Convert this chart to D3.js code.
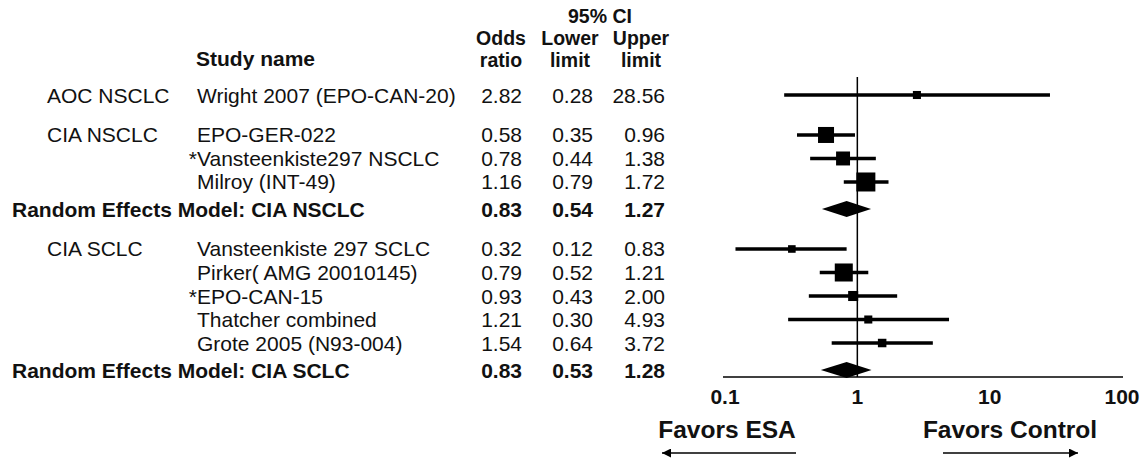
<!DOCTYPE html>
<html>
<head>
<meta charset="utf-8">
<script src="https://cdn.jsdelivr.net/npm/d3@7"></script>
<style>
  html, body { margin: 0; padding: 0; background: #fff; }
  svg { display: block; }
  text { font-family: "Liberation Sans", Arial, Helvetica, sans-serif; fill: #111; }
</style>
</head>
<body>
<svg id="chart" width="1142" height="458"></svg>
<script>
// ---------------- data ----------------
const rowLabels = [
  "Wright 2007 (EPO-CAN-20)",
  "EPO-GER-022",
  "Vansteenkiste297 NSCLC",
  "Milroy (INT-49)",
  "Random Effects Model: CIA NSCLC",
  "Vansteenkiste 297 SCLC",
  "Pirker( AMG 20010145)",
  "EPO-CAN-15",
  "Thatcher combined",
  "Grote 2005 (N93-004)",
  "Random Effects Model: CIA SCLC"
];
const rowGroups = ["AOC NSCLC", "CIA NSCLC", "CIA NSCLC", "CIA NSCLC", "CIA NSCLC",
                   "CIA SCLC", "CIA SCLC", "CIA SCLC", "CIA SCLC", "CIA SCLC", "CIA SCLC"];
const isSummary = [false, false, false, false, true, false, false, false, false, false, true];
const flagged   = [false, false, true, false, false, false, false, true, false, false, false];
const oddsRatio  = [2.82, 0.58, 0.78, 1.16, 0.83, 0.32, 0.79, 0.93, 1.21, 1.54, 0.83];
const lowerLimit = [0.28, 0.35, 0.44, 0.79, 0.54, 0.12, 0.52, 0.43, 0.30, 0.64, 0.53];
const upperLimit = [28.56, 0.96, 1.38, 1.72, 1.27, 0.83, 1.21, 2.00, 4.93, 3.72, 1.28];
const relWeight  = [18, 71, 54, 100, null, 16, 90, 28, 18, 20, null];
const axisTicks = [0.1, 1, 10, 100];
const tickLabels = ["0.1", "1", "10", "100"];
const favorLabels = ["Favors ESA", "Favors Control"];
const headerCols = [["Odds", "ratio"], ["Lower", "limit"], ["Upper", "limit"]];

// ---------------- layout ----------------
const svg = d3.select("#chart");
const FONT = 21;

// row slot positions derived from structure
const slots = [];
let s = 0;
rowLabels.forEach((d, i) => {
  if (i > 0) {
    if (isSummary[i]) s += 1.15;
    else if (rowGroups[i] !== rowGroups[i - 1]) s += 1.7;
    else if (isSummary[i - 1]) s += 1.4;
    else s += 1;
  }
  slots.push(s);
});
const y = d3.scaleLinear().domain([0, 11.4]).range([95, 363]);
const x = d3.scaleLog().domain([0.1, 100]).range([725, 1122]);
const size = d3.scaleSqrt().domain([0, 100]).range([0, 19]);

const rows = rowLabels.map((label, i) => ({
  label, group: rowGroups[i], summary: isSummary[i], flag: flagged[i],
  or: oddsRatio[i], lo: lowerLimit[i], hi: upperLimit[i], w: relWeight[i],
  y: y(slots[i])
}));
rows.forEach((r, i) => {
  r.showGroup = !r.summary && (i === 0 || rows[i - 1].group !== r.group);
});

// ---------------- headers ----------------
const hdr = svg.append("g").attr("font-weight", "bold").attr("font-size", 19.5);
hdr.append("text").attr("x", 196).attr("y", 66).attr("font-size", FONT).text("Study name");
hdr.append("text").attr("x", 600).attr("y", 23).attr("text-anchor", "middle").text("95% CI");
const colCenters = [501, 570, 641];
headerCols.forEach((pair, j) => {
  hdr.append("text").attr("x", colCenters[j]).attr("y", 45).attr("text-anchor", "middle").text(pair[0]);
  hdr.append("text").attr("x", colCenters[j]).attr("y", 67).attr("text-anchor", "middle").text(pair[1]);
});

// ---------------- table text ----------------
const tbl = svg.append("g").attr("font-size", FONT);
const colRight = [522, 593, 665];
rows.forEach(r => {
  const base = r.y + 7.5;
  if (r.summary) {
    tbl.append("text").attr("x", 12).attr("y", base).attr("font-weight", "bold").text(r.label);
  } else {
    if (r.showGroup) tbl.append("text").attr("x", 47).attr("y", base).text(r.group);
    if (r.flag) tbl.append("text").attr("x", 197).attr("y", base).attr("text-anchor", "end").text("*");
    tbl.append("text").attr("x", 197).attr("y", base).text(r.label);
  }
  [r.or, r.lo, r.hi].forEach((v, j) => {
    tbl.append("text").attr("x", colRight[j]).attr("y", base)
      .attr("text-anchor", "end")
      .attr("font-weight", r.summary ? "bold" : "normal")
      .text(v.toFixed(2));
  });
});

// ---------------- plot ----------------
const axisY = 377;
const plot = svg.append("g");

plot.append("line")
  .attr("x1", x(1)).attr("x2", x(1))
  .attr("y1", 77).attr("y2", axisY)
  .attr("stroke", "#000").attr("stroke-width", 1.5);

plot.append("line")
  .attr("x1", x(0.1) - 2).attr("x2", x(100) + 1)
  .attr("y1", axisY).attr("y2", axisY)
  .attr("stroke", "#000").attr("stroke-width", 1.5);
plot.selectAll("text.tick").data(axisTicks).enter().append("text")
  .attr("class", "tick")
  .attr("x", d => x(d)).attr("y", 404)
  .attr("text-anchor", "middle")
  .attr("font-weight", "bold").attr("font-size", 21)
  .text((d, i) => tickLabels[i]);

const studies = rows.filter(r => !r.summary);
plot.selectAll("line.ci").data(studies).enter().append("line")
  .attr("class", "ci")
  .attr("x1", d => x(d.lo)).attr("x2", d => x(d.hi))
  .attr("y1", d => d.y).attr("y2", d => d.y)
  .attr("stroke", "#000").attr("stroke-width", 3.5);
plot.selectAll("rect.box").data(studies).enter().append("rect")
  .attr("class", "box")
  .attr("x", d => x(d.or) - size(d.w) / 2)
  .attr("y", d => d.y - size(d.w) / 2)
  .attr("width", d => size(d.w)).attr("height", d => size(d.w))
  .attr("fill", "#000");

const summaries = rows.filter(r => r.summary);
const halfH = 8;
plot.selectAll("path.diamond").data(summaries).enter().append("path")
  .attr("class", "diamond")
  .attr("d", d => `M${x(d.lo)},${d.y} L${x(d.or)},${d.y - halfH} L${x(d.hi)},${d.y} L${x(d.or)},${d.y + halfH} Z`)
  .attr("fill", "#000");

// favors labels and arrows
svg.append("text").attr("x", 727).attr("y", 438).attr("text-anchor", "middle")
  .attr("font-weight", "bold").attr("font-size", 24.5).text(favorLabels[0]);
svg.append("text").attr("x", 1010).attr("y", 438).attr("text-anchor", "middle")
  .attr("font-weight", "bold").attr("font-size", 24.5).text(favorLabels[1]);

const defs = svg.append("defs");
defs.append("marker").attr("id", "arrow")
  .attr("viewBox", "0 0 10 10").attr("refX", 10).attr("refY", 5)
  .attr("markerWidth", 11).attr("markerHeight", 9).attr("orient", "auto")
  .attr("markerUnits", "userSpaceOnUse")
  .append("path").attr("d", "M0,0 L10,5 L0,10 Z").attr("fill", "#000");

svg.append("line").attr("x1", 796).attr("x2", 662).attr("y1", 453).attr("y2", 453)
  .attr("stroke", "#000").attr("stroke-width", 1.5).attr("marker-end", "url(#arrow)");
svg.append("line").attr("x1", 943).attr("x2", 1078).attr("y1", 453).attr("y2", 453)
  .attr("stroke", "#000").attr("stroke-width", 1.5).attr("marker-end", "url(#arrow)");
</script>
</body>
</html>
